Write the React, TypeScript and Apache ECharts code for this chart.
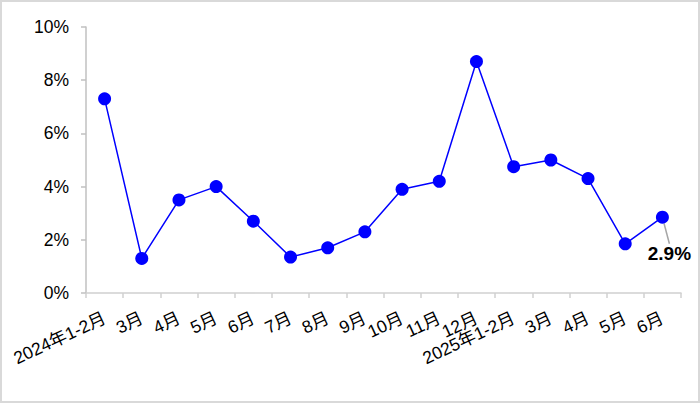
import React, { useEffect, useRef } from "react";
import * as echarts from "echarts";

const categories = [
  "2024年1-2月", "3月", "4月", "5月", "6月", "7月", "8月", "9月", "10月", "11月", "12月",
  "2025年1-2月", "3月", "4月", "5月", "6月",
];
const values = [7.3, 1.3, 3.5, 4.0, 2.7, 1.35, 1.7, 2.3, 3.9, 4.2, 8.7, 4.75, 5.0, 4.3, 1.85, 2.85];
const labelIndex = 15;
const labelText = "2.9%";

export default function App() {
  const ref = useRef<HTMLDivElement>(null);
  useEffect(() => {
    document.body.style.margin = "0";
    const chart = echarts.init(ref.current!, null, { renderer: "svg" });
    const font = "Arial, 'Liberation Sans', 'Noto Sans CJK SC', sans-serif";
    chart.setOption({
      animation: false,
      grid: { left: 84, right: 17, top: 25, bottom: 108, containLabel: false },
      xAxis: {
        type: "category",
        data: categories,
        boundaryGap: true,
        axisLine: { lineStyle: { color: "#d0d0d0", width: 1.5 } },
        axisTick: { show: true, length: 5, lineStyle: { color: "#d0d0d0", width: 1.5 } },
        axisLabel: {
          interval: 0,
          rotate: 25,
          margin: 24,
          color: "#000",
          fontSize: 17.5,
          fontFamily: font,
        },
        splitLine: { show: false },
      },
      yAxis: {
        type: "value",
        min: 0,
        max: 10,
        interval: 2,
        axisLine: { show: true, lineStyle: { color: "#c0c0c0", width: 1.5 } },
        axisTick: { show: true, length: 5, lineStyle: { color: "#c0c0c0", width: 1.5 } },
        axisLabel: {
          formatter: "{value}%",
          color: "#000",
          fontSize: 17.5,
          fontFamily: font,
          margin: 17,
        },
        splitLine: { show: false },
      },
      series: [
        {
          type: "line",
          data: values.map((v, i) =>
            i === labelIndex
              ? {
                  value: v,
                  label: {
                    show: true,
                    position: "bottom",
                    formatter: labelText,
                    fontWeight: "bold",
                    fontSize: 19,
                    color: "#000",
                    fontFamily: font,
                  },
                  labelLine: { show: true, lineStyle: { color: "#a6a6a6", width: 1.5 } },
                }
              : v
          ),
          symbol: "circle",
          symbolSize: 13,
          lineStyle: { color: "#0000ff", width: 1.5 },
          itemStyle: { color: "#0000ff" },
          label: { show: false },
          labelLayout: (params: any) =>
            params.dataIndex === labelIndex ? { dx: 7, dy: 15 } : {},
          labelLine: { show: true, lineStyle: { color: "#a6a6a6" } },
        },
      ],
    });
    return () => chart.dispose();
  }, []);
  return (
    <div
      ref={ref}
      style={{
        width: 700,
        height: 403,
        boxSizing: "border-box",
        border: "2px solid #d9d9d9",
        background: "#fff",
      }}
    />
  );
}
